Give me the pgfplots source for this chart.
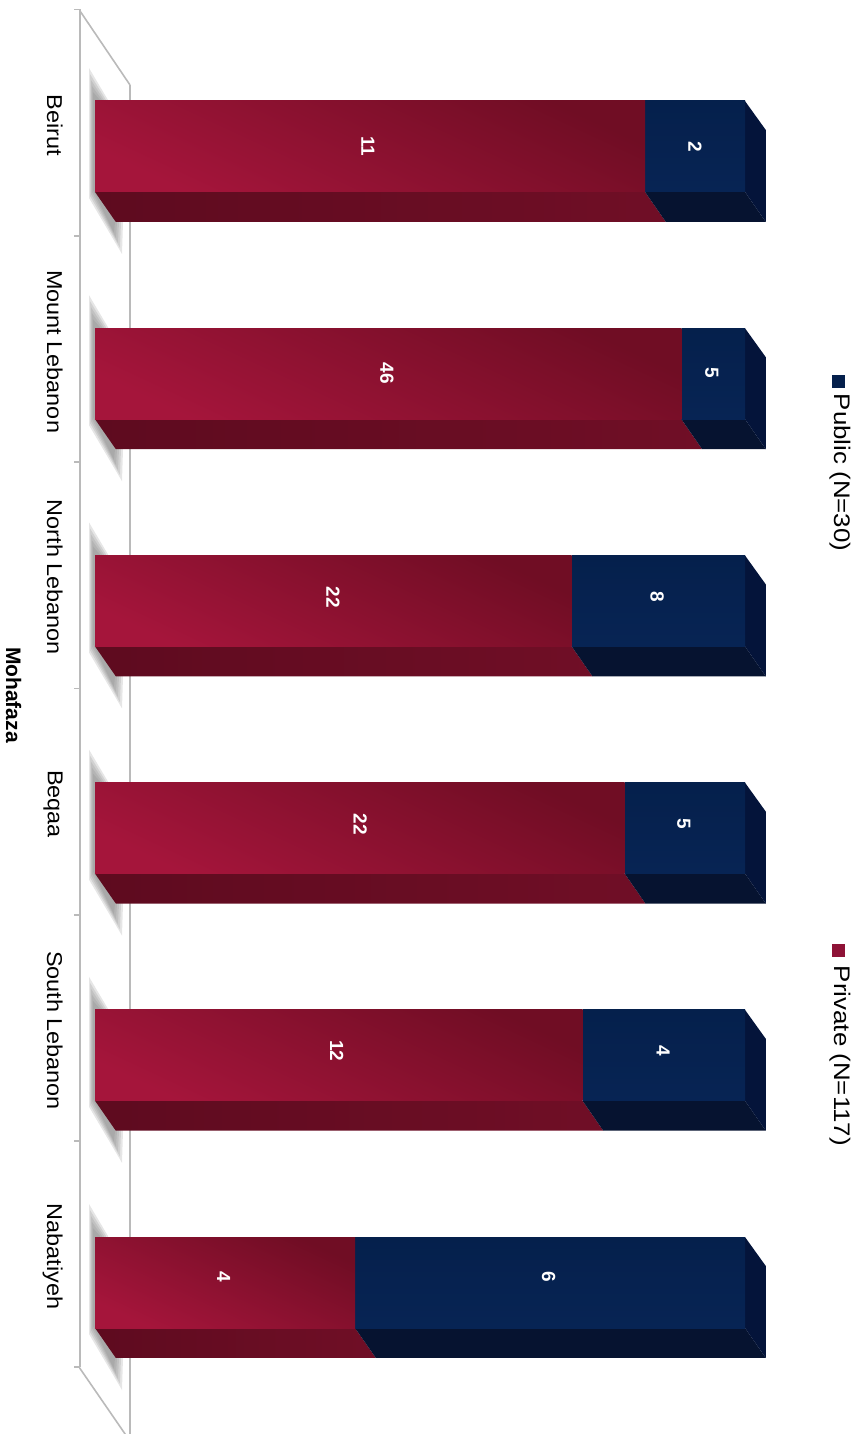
\documentclass[border=0pt]{standalone}
\usepackage{graphicx}
\usepackage{fontspec}
\setmainfont{Liberation Sans}
\usepackage{pgfplots}
\usepackage{pgfplotstable}
\pgfplotsset{compat=1.18}
\newcommand\lab[1]{\scalebox{1.15}[1]{#1}}
\newcommand\cat[1]{\scalebox{1.09}[1]{#1}}
\definecolor{redA}{HTML}{700D24}
\definecolor{redB}{HTML}{8E1236}
\definecolor{redC}{HTML}{A5153B}
\definecolor{redBotL}{HTML}{5E0B1F}
\definecolor{redBotR}{HTML}{700E26}
\definecolor{blueF}{HTML}{05204C}
\definecolor{blueFb}{HTML}{072454}
\definecolor{blueBot}{HTML}{061330}
\definecolor{blueSide}{HTML}{04143A}
\definecolor{wall}{HTML}{BABABA}
\pgfplotstableread{
x y l
42.0 0 11
92.3 0 2
44.9 0.997 46
94.9 0.997 5
36.6 1.983 22
86.5 1.983 8
40.8 2.982 22
90.6 2.982 5
37.2 3.98 12
87.4 3.98 4
19.8 4.976 4
69.8 4.976 6
}\labelstable
\pgfplotstableread{
x y
-0.923 -0.3455
2 -0.2047
2 0.1915
4.308 0.3323
4.154 0.4731
-0.923 0.2267
}\shadowA
\pgfplotstableread{
x y
-0.769 -0.3191
1.692 -0.2047
1.692 0.1915
4 0.3323
3.846 0.4467
-0.769 0.2179
}\shadowB
\pgfplotstableread{
x y
-0.615 -0.2927
1.385 -0.2047
1.385 0.1915
3.692 0.3323
3.538 0.4247
-0.615 0.2091
}\shadowC
\pgfplotstableread{
x y
-0.462 -0.2663
1.077 -0.2047
1.077 0.1915
3.385 0.3323
3.231 0.4027
-0.462 0.2003
}\shadowD
\pgfplotstableread{
x y
-0.308 -0.2399
0.769 -0.2047
0.769 0.1915
3.077 0.3323
2.923 0.3807
-0.308 0.1915
}\shadowE
\pgfplotsset{
  base/.style={
    at={(39.5pt,0pt)}, anchor=south west,
    scale only axis, width=389pt, height=717pt,
    xmin=-2.4615, xmax=117.23, ymin=-0.6448, ymax=5.6668,
    y dir=reverse,
  },
  hid/.style={base, axis lines=none, xtick=\empty, ytick=\empty},
  shad/.style={draw=none, fill=black!50, opacity=0.2},
  redface/.style={draw=none, left color=redBotL, right color=redBotR},
}
% one stacked bar: index, private share, public share
\newcommand\stackedbar[3]{%
  \begin{axis}[hid, xbar stacked, bar width=45.5pt]
  \addplot[draw=none, top color=redA, middle color=redB, bottom color=redC, shading angle=-25] coordinates {(#2,#1)};
  \addplot[draw=none, top color=blueF, bottom color=blueFb] coordinates {(#3,#1)};
  \end{axis}}
\begin{document}
\begin{tikzpicture}
\useasboundingbox (0,0) rectangle (428.5pt,717pt);
\begin{axis}[base,
  axis x line=none, axis y line*=left,
  axis line style={draw=none},
  xtick=\empty,
  ytick={-0.093,0.903,1.897,2.894,3.891,4.886},
  yticklabels={\cat{Beirut},\cat{Mount Lebanon},\cat{North Lebanon},\cat{Beqaa},\cat{South Lebanon},\cat{Nabatiyeh}},
  major tick length=0pt,
  yticklabel style={rotate=-90, anchor=north, inner sep=0pt, yshift=-8pt, font=\fontsize{10.75}{13}\selectfont, text=black},
  extra y ticks={-0.603,0.394,1.389,2.384,3.382,4.377,5.372},
  extra y tick labels={},
  extra tick style={major tick length=2.5pt, tick align=outside, tick style={draw=wall, line width=0.6pt}},
  ylabel={\textbf{Mohafaza}},
  ylabel style={at={(axis description cs:-0.084,0.5153)}, rotate=180, anchor=center, inner sep=0pt, font=\fontsize{10.5}{12}\selectfont},
]
\addplot[draw=wall, line width=1.5pt] coordinates {(-2.4615,-0.603) (-2.4615,5.372)};
\addplot[draw=wall, line width=0.8pt] coordinates {(-2.4615,-0.603) (5.385,-0.2707)};
\addplot[draw=wall, line width=1.3pt] coordinates {(5.385,-0.2707) (5.385,5.6668)};
\addplot[draw=wall, line width=0.8pt] coordinates {(-2.4615,5.372) (5.385,5.698)};
\pgfplotsinvokeforeach{0,1,2,3,4,5}{
  \addplot[shad] table[x=x, y expr=\thisrow{y}+#1] {\shadowA} --cycle;
  \addplot[shad] table[x=x, y expr=\thisrow{y}+#1] {\shadowB} --cycle;
  \addplot[shad] table[x=x, y expr=\thisrow{y}+#1] {\shadowC} --cycle;
  \addplot[shad] table[x=x, y expr=\thisrow{y}+#1] {\shadowD} --cycle;
  \addplot[shad] table[x=x, y expr=\thisrow{y}+#1] {\shadowE} --cycle;
}
% bottom faces, private
\addplot[redface] coordinates {(0,0.2) (84.62,0.2) (87.82,0.332) (3.2,0.332)} --cycle;
\addplot[redface] coordinates {(0,1.2) (90.20,1.2) (93.40,1.332) (3.2,1.332)} --cycle;
\addplot[redface] coordinates {(0,2.2) (73.33,2.2) (76.53,2.332) (3.2,2.332)} --cycle;
\addplot[redface] coordinates {(0,3.2) (81.48,3.2) (84.68,3.332) (3.2,3.332)} --cycle;
\addplot[redface] coordinates {(0,4.2) (75.00,4.2) (78.20,4.332) (3.2,4.332)} --cycle;
\addplot[redface] coordinates {(0,5.2) (40.00,5.2) (43.20,5.332) (3.2,5.332)} --cycle;
% bottom faces, public
\addplot[draw=none, fill=blueBot] coordinates {(84.62,0.2) (100,0.2) (103.2,0.332) (87.82,0.332)} --cycle;
\addplot[draw=none, fill=blueBot] coordinates {(90.20,1.2) (100,1.2) (103.2,1.332) (93.40,1.332)} --cycle;
\addplot[draw=none, fill=blueBot] coordinates {(73.33,2.2) (100,2.2) (103.2,2.332) (76.53,2.332)} --cycle;
\addplot[draw=none, fill=blueBot] coordinates {(81.48,3.2) (100,3.2) (103.2,3.332) (84.68,3.332)} --cycle;
\addplot[draw=none, fill=blueBot] coordinates {(75.00,4.2) (100,4.2) (103.2,4.332) (78.20,4.332)} --cycle;
\addplot[draw=none, fill=blueBot] coordinates {(40.00,5.2) (100,5.2) (103.2,5.332) (43.20,5.332)} --cycle;
% end faces
\addplot[draw=none, fill=blueSide] coordinates {(100,-0.2) (103.2,-0.0726) (103.2,0.332) (100,0.2)} --cycle;
\addplot[draw=none, fill=blueSide] coordinates {(100,0.8) (103.2,0.9274) (103.2,1.332) (100,1.2)} --cycle;
\addplot[draw=none, fill=blueSide] coordinates {(100,1.8) (103.2,1.9274) (103.2,2.332) (100,2.2)} --cycle;
\addplot[draw=none, fill=blueSide] coordinates {(100,2.8) (103.2,2.9274) (103.2,3.332) (100,3.2)} --cycle;
\addplot[draw=none, fill=blueSide] coordinates {(100,3.8) (103.2,3.9274) (103.2,4.332) (100,4.2)} --cycle;
\addplot[draw=none, fill=blueSide] coordinates {(100,4.8) (103.2,4.9274) (103.2,5.332) (100,5.2)} --cycle;
\end{axis}
% stacked front faces, one axis per bar so that each has its own gradient
\stackedbar{0}{84.62}{15.38}
\stackedbar{1}{90.20}{9.80}
\stackedbar{2}{73.33}{26.67}
\stackedbar{3}{81.48}{18.52}
\stackedbar{4}{75.00}{25.00}
\stackedbar{5}{40.00}{60.00}
% value labels and legend
\begin{axis}[hid, clip=false]
\addplot[draw=none, mark=none, nodes near coords, point meta=explicit symbolic,
  every node near coord/.append style={rotate=-90, anchor=center, inner sep=0pt, text=white, font=\fontsize{9.5}{11}\selectfont\bfseries}]
  table[x=x, y=y, meta=l] {\labelstable};
\addplot[only marks, mark=square*, mark size=3pt, color=blueF] coordinates {(114.3,1.032)};
\addplot[only marks, mark=square*, mark size=3pt, color=redB] coordinates {(114.3,3.537)};
\node[rotate=-90, inner sep=0pt, font=\fontsize{11.25}{13}\selectfont] at (axis cs:114.6,1.435) {\lab{Public (N=30)}};
\node[rotate=-90, inner sep=0pt, font=\fontsize{11.25}{13}\selectfont] at (axis cs:114.6,4.003) {\lab{Private (N=117)}};
\end{axis}
\end{tikzpicture}
\end{document}
